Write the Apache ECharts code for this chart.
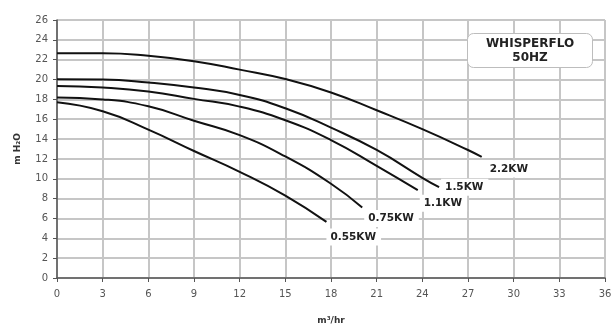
<!DOCTYPE html>
<html>
<head>
<meta charset="utf-8">
<script src="https://cdn.jsdelivr.net/npm/echarts@6/dist/echarts.min.js"></script>
<style>html,body{margin:0;padding:0;background:#fff}#c{width:612px;height:325px}</style>
</head>
<body>
<div id="c"></div>
<script>
const xTicks = [0,3,6,9,12,15,18,21,24,27,30,33,36];
const yTicks = [0,2,4,6,8,10,12,14,16,18,20,22,24,26];

const names = ['2.2KW','1.5KW','1.1KW','0.75KW','0.55KW'];
const flow22 = [0,3,6,9,12,15,18,21,24,27,27.9];
const head22 = [22.65,22.65,22.4,21.85,21.0,20.05,18.7,16.9,15.0,12.9,12.2];
const flow15 = [0,3,6,9,12,15,18,21,24,25.1];
const head15 = [20.03,20.0,19.7,19.2,18.45,17.1,15.15,12.9,10.1,9.15];
const flow11 = [0,3,6,9,12,15,18,21,23.7];
const head11 = [19.35,19.2,18.8,18.05,17.27,15.9,13.9,11.3,8.85];
const flow075 = [0,3,6,9,12,15,18,20.05];
const head075 = [18.2,18.0,17.3,15.85,14.4,12.25,9.5,7.1];
const flow055 = [0,3,6,9,12,15,17.7];
const head055 = [17.7,16.8,14.95,12.8,10.7,8.3,5.65];

const flows = [flow22, flow15, flow11, flow075, flow055];
const heads = [head22, head15, head11, head075, head055];
const labelOffsets = [[4,12],[2,0],[2,13],[2,11],[0,15]];

const chart = echarts.init(document.getElementById('c'), null, {renderer:'canvas'});
const font = 'DejaVu Sans';
chart.setOption({
  animation: false,
  backgroundColor: '#fff',
  title: {
    text: 'WHISPERFLO\n50HZ',
    left: 511, top: 33,
    textAlign: 'center',
    padding: [4, 19, 3, 19],
    backgroundColor: '#fff',
    borderColor: '#bdbdbd',
    borderWidth: 1,
    borderRadius: 6,
    textStyle: {fontFamily: font, fontSize: 12, fontWeight: 700, color: '#222', lineHeight: 14}
  },
  grid: {left: 57, right: 7, top: 20, bottom: 47, containLabel: false, outerBoundsMode: 'none',
    show: true, borderColor: '#999', borderWidth: 1},
  xAxis: {
    type: 'value', min: 0, max: 36, interval: 3,
    name: 'm³/hr', nameLocation: 'middle', nameGap: 38,
    nameTextStyle: {fontFamily: font, fontSize: 9, fontWeight: 'bold', color: '#333'},
    axisLine: {show: true, lineStyle: {color: '#555', width: 1.5}},
    axisTick: {show: true, length: 4, lineStyle: {color: '#555'}},
    axisLabel: {fontFamily: font, fontSize: 10, color: '#555', margin: 11,
      formatter: v => xTicks.includes(v) ? String(v) : ''},
    splitLine: {show: true, lineStyle: {color: '#c6c6c6', width: 2}}
  },
  yAxis: {
    type: 'value', min: 0, max: 26, interval: 2,
    name: 'm H₂O', nameLocation: 'middle', nameGap: 35, nameRotate: 90,
    nameTextStyle: {fontFamily: font, fontSize: 9, fontWeight: 'bold', color: '#333'},
    axisLine: {show: true, lineStyle: {color: '#555', width: 1.5}},
    axisTick: {show: true, length: 4, lineStyle: {color: '#555'}},
    axisLabel: {fontFamily: font, fontSize: 10, color: '#555', margin: 9,
      formatter: v => yTicks.includes(v) ? String(v) : ''},
    splitLine: {show: true, lineStyle: {color: '#c6c6c6', width: 2}}
  },
  series: names.map((n, i) => ({
    name: n,
    type: 'line',
    smooth: 0.5,
    showSymbol: false,
    symbol: 'none',
    lineStyle: {color: '#111', width: 2},
    data: flows[i].map((x, j) => [x, heads[i][j]]),
    endLabel: {
      show: true,
      formatter: n,
      distance: 0,
      offset: labelOffsets[i],
      backgroundColor: '#fff',
      padding: [3, 5, 3, 4],
      fontFamily: font, fontSize: 10.5, fontWeight: 'bold', color: '#222'
    }
  }))
});
</script>
</body>
</html>
